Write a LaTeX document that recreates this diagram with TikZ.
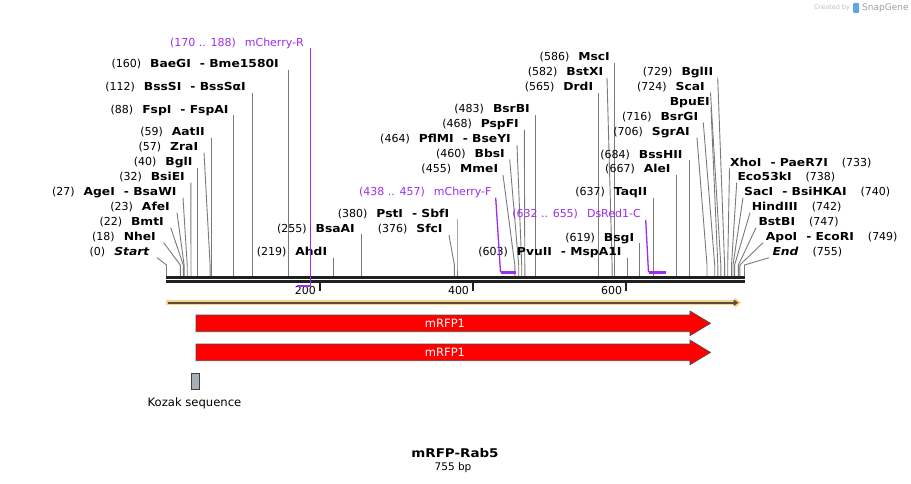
\documentclass[tikz,border=0pt]{standalone}
\usepackage{fontspec}
\setmainfont{DejaVu Sans}
\newfontfamily\namefont{DejaVu Sans}[FakeStretch=1.12]
\usetikzlibrary{arrows.meta}
\definecolor{primer}{RGB}{155,45,240}
\definecolor{kozak}{RGB}{166,174,182}
\definecolor{orfband}{RGB}{253,207,135}
\definecolor{orfline}{RGB}{92,78,62}
\definecolor{snapblue}{RGB}{95,165,235}
\newcommand{\nm}[1]{{\namefont\bfseries #1}}
\newcommand{\enzL}[7]{%
  \node[lbl,anchor=base east] (#1) at (#2,#3+4) {(#4)\hspace{9pt}\nm{#5}};
  \coordinate (#1s) at (#6,#3+6);
  \coordinate (#1k) at (#7,265);
  \coordinate (#1b) at (#7,276);
  \draw[cut] (#1s) -- (#1k) -- (#1b);
}
\newcommand{\enzR}[7]{%
  \node[lbl,anchor=base west] (#1) at (#2,#3+4) {\nm{#5}\hspace{14pt}(#4)};
  \coordinate (#1s) at (#6,#3+6);
  \coordinate (#1k) at (#7,265);
  \coordinate (#1b) at (#7,276);
  \draw[cut] (#1s) -- (#1k) -- (#1b);
}
\tikzset{
  lbl/.style={inner sep=0pt, font=\fontsize{11}{13}\selectfont},
  plbl/.style={inner sep=0pt, text=primer, font=\fontsize{11}{13}\selectfont},
  cut/.style={draw=black!52, line width=0.9pt},
  prim/.style={draw=primer, line width=1.3pt},
  primbar/.style={draw=primer, line width=2.4pt},
  bb/.style={draw=black!88, line width=3pt},
  tickmark/.style={draw=black!88, line width=1.8pt},
  ticklbl/.style={inner sep=0pt, anchor=base east, font=\fontsize{11}{13}\selectfont},
  featarrow/.style={fill=red, draw=black!70, line width=0.6pt},
  feattext/.style={text=white, inner sep=0pt, font=\fontsize{11.5}{13}\selectfont},
}
\begin{document}
\begin{tikzpicture}[x=1pt,y=-1pt]
\path[use as bounding box] (0,0) rectangle (911,484);

% watermark
\node[inner sep=0pt, anchor=base west, text=black!25, font=\fontsize{6.5}{8}\selectfont] (wm1) at (814,10) {Created by};
\fill[snapblue, rounded corners=1pt] (853,3) rectangle (859,13);
\node[inner sep=0pt, anchor=base west, text=black!38, font=\fontsize{9}{10}\selectfont] (wm2) at (862,11) {SnapGene};

% backbone
\coordinate (bbL1) at (166,277.6); \coordinate (bbR1) at (744.5,277.6);
\coordinate (bbL2) at (166,281.4); \coordinate (bbR2) at (744.5,281.4);
\draw[bb] (bbL1) -- (bbR1);
\draw[bb, line width=2.8pt] (bbL2) -- (bbR2);

% ticks
\foreach \tx/\tl in {319.6/200, 472.7/400, 625.9/600}{
  \draw[tickmark] (\tx,283) -- (\tx,291);
  \node[ticklbl] at (\tx-3.5,294.5) {\tl};
}

% enzyme sites, left-side labels
\enzL{st}{149.5}{251.7}{0}{\itshape Start}{157}{166.5}
\enzL{nhe}{156}{236.7}{18}{NheI}{163.7}{180.3}
\enzL{bmt}{164}{221.7}{22}{BmtI}{170.7}{183.3}
\enzL{afe}{170}{206.7}{23}{AfeI}{177}{184.1}
\enzL{age}{176.7}{191.7}{27}{AgeI\hspace{9pt}- BsaWI}{183}{187.2}
\enzL{bsie}{185}{176.7}{32}{BsiEI}{190.8}{191}
\enzL{bgl}{192.7}{161.7}{40}{BglI}{197.5}{197.5}
\enzL{zra}{198.3}{146.7}{57}{ZraI}{204}{210.1}
\enzL{aat}{205}{131.7}{59}{AatII}{211.6}{211.6}
\enzL{fsp}{228.7}{109.3}{88}{FspI\hspace{9pt}- FspAI}{233.7}{233.7}
\enzL{bsss}{246}{86.7}{112}{BssSI\hspace{9pt}- BssSαI}{252.3}{252.3}
\enzL{bae}{279}{64}{160}{BaeGI\hspace{9pt}- Bme1580I}{288.7}{288.7}
\enzL{ahd}{327.3}{251.7}{219}{AhdI}{333.6}{333.6}
\enzL{bsaa}{355}{228.3}{255}{BsaAI}{361.5}{361.5}
\enzL{sfc}{442.7}{229}{376}{SfcI}{449}{454.4}
\enzL{pst}{449.3}{213.3}{380}{PstI\hspace{9pt}- SbfI}{457}{457}
\enzL{mme}{498.3}{169}{455}{MmeI}{503}{514.8}
\enzL{bbs}{505}{153.3}{460}{BbsI}{509.7}{518.7}
\enzL{pfl}{511}{139}{464}{PflMI\hspace{9pt}- BseYI}{517}{521.7}
\enzL{psp}{519}{124}{468}{PspFI}{524.3}{524.8}
\enzL{bsrb}{530}{109}{483}{BsrBI}{535.6}{535.6}
\enzL{drd}{593.3}{86.7}{565}{DrdI}{598.8}{598.8}
\enzL{bstx}{603.3}{71.7}{582}{BstXI}{607}{612.1}
\enzL{msc}{610}{56.7}{586}{MscI}{614.8}{614.8}
\enzL{pvu}{621.7}{251.7}{603}{PvuII\hspace{9pt}- MspA1I}{627.8}{627.8}
\enzL{bsg}{634.3}{237.3}{619}{BsgI}{639.8}{639.8}
\enzL{taq}{647.3}{191.7}{637}{TaqII}{653.8}{653.8}
\enzL{ale}{670.7}{169}{667}{AleI}{676.9}{676.9}
\enzL{bsshii}{682.7}{154.3}{684}{BssHII}{689.7}{689.7}
\enzL{sgra}{690}{131.7}{706}{SgrAI}{697}{707}
\enzL{bsrg}{698.3}{116.7}{716}{BsrGI}{703.3}{714.7}
\node[lbl,anchor=base east] (bpue) at (710,105.7) {\nm{BpuEI}};
\coordinate (bpues) at (711,108); \coordinate (bpuek) at (717.8,265); \coordinate (bpueb) at (717.8,276);
\draw[cut] (bpues) -- (bpuek) -- (bpueb);
\enzL{sca}{705}{86.7}{724}{ScaI}{710.5}{720.8}
\enzL{bgltwo}{713.3}{71.7}{729}{BglII}{717.7}{724.6}

% enzyme sites, right-side labels
\enzR{xho}{730}{162.3}{733}{XhoI\hspace{9pt}- PaeR7I}{729.5}{727.7}
\enzR{ecok}{737.3}{176.7}{738}{Eco53kI}{736.7}{731.5}
\enzR{sac}{744}{191.7}{740}{SacI\hspace{9pt}- BsiHKAI}{743}{733}
\enzR{hind}{751.7}{206.7}{742}{HindIII}{750}{734.6}
\enzR{bstb}{758.3}{221.7}{747}{BstBI}{756}{738.4}
\enzR{apo}{765.7}{236.7}{749}{ApoI\hspace{9pt}- EcoRI}{763}{739.9}
\enzR{fin}{772.3}{251.7}{755}{\itshape End}{769}{744.5}

% primers
\node[plbl,anchor=base east] (mchr) at (304,46.3) {(170 .. 188)\hspace{9pt}mCherry-R};
\coordinate (mchrs) at (310.4,48); \coordinate (mchrb) at (310.4,286); \coordinate (mchre) at (296.6,286);
\draw[prim] (mchrs) -- (mchrb);
\draw[primbar] (mchre) -- (mchrb);

\node[plbl,anchor=base east] (mchf) at (491.7,195.7) {(438 .. 457)\hspace{9pt}mCherry-F};
\coordinate (mchfs) at (495.7,197.7); \coordinate (mchfb) at (500.5,272.4); \coordinate (mchfe) at (515.5,272.4);
\draw[prim] (mchfs) -- (mchfb);
\draw[primbar] (mchfb) -- (mchfe);

\node[plbl,anchor=base east] (dsr) at (641,217.3) {(632 .. 655)\hspace{9pt}DsRed1-C};
\coordinate (dsrs) at (645.7,220); \coordinate (dsrb) at (648.5,272.4); \coordinate (dsre) at (666,272.4);
\draw[prim] (dsrs) -- (dsrb);
\draw[primbar] (dsrb) -- (dsre);

% ORF arrow
\coordinate (orfL) at (166,302.7); \coordinate (orfR) at (741,302.7);
\draw[orfband, line width=5.5pt, -{Triangle[length=6pt,width=10pt]}] (orfL) -- (orfR);
\draw[orfline, line width=1.8pt, -{Triangle[length=5pt,width=6.5pt]}] (167.5,302.7) -- (738.5,302.7);

% mRFP1 features
\draw[featarrow] (196,315) -- (690,315) -- (690,311) -- (710.5,323.3) -- (690,335.7) -- (690,331.7) -- (196,331.7) -- cycle;
\node[feattext] (rfp1) at (445,323.4) {mRFP1};
\draw[featarrow] (196,344) -- (690,344) -- (690,340) -- (710.5,352.4) -- (690,364.8) -- (690,360.7) -- (196,360.7) -- cycle;
\node[feattext] (rfp2) at (445,352.4) {mRFP1};

% Kozak
\node[draw=black!75, fill=kozak, line width=0.6pt, minimum width=7.5pt, minimum height=15.7pt, inner sep=0pt] (koz) at (195.2,381.2) {};
\node[inner sep=0pt, font=\fontsize{11.6}{13}\selectfont] (kozl) at (194.5,403) {Kozak sequence};

% title
\node[inner sep=0pt, font=\namefont\bfseries\fontsize{12}{14}\selectfont] (title) at (455,453) {mRFP-Rab5};
\node[inner sep=0pt, font=\fontsize{10.5}{12}\selectfont] (len) at (453,468) {755 bp};
\end{tikzpicture}
\end{document}
